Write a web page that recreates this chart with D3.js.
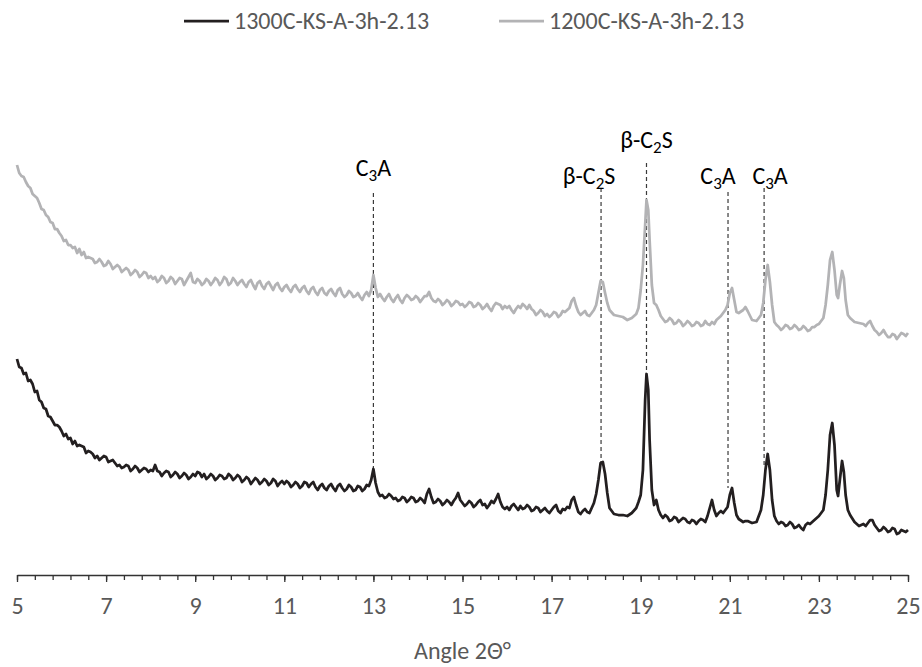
<!DOCTYPE html>
<html>
<head>
<meta charset="utf-8">
<script src="https://cdn.jsdelivr.net/npm/d3@7"></script>
<style>
  html, body { margin: 0; padding: 0; background: #fff; }
  svg { display: block; }
  text { font-family: Carlito, Calibri, Lato, sans-serif; }
</style>
</head>
<body>
<svg id="chart" width="922" height="667"></svg>
<script>
// ---------------- DATA ----------------
const seriesNames = ["1300C-KS-A-3h-2.13", "1200C-KS-A-3h-2.13"];

const angles = [
  5.0,5.05,5.1,5.15,5.2,5.25,5.3,5.35,5.4,5.45,5.5,5.55,5.6,5.65,5.7,5.75,5.8,5.85,5.9,5.95,
  6.0,6.05,6.1,6.15,6.2,6.25,6.3,6.35,6.4,6.45,6.5,6.55,6.6,6.65,6.7,6.75,6.8,6.85,6.9,6.95,
  7.0,7.05,7.1,7.15,7.2,7.25,7.3,7.35,7.4,7.45,7.5,7.55,7.6,7.65,7.7,7.75,7.8,7.85,7.9,7.95,
  8.0,8.05,8.1,8.15,8.2,8.25,8.3,8.35,8.4,8.45,8.5,8.55,8.6,8.65,8.7,8.75,8.8,8.85,8.9,8.95,
  9.0,9.05,9.1,9.15,9.2,9.25,9.3,9.35,9.4,9.45,9.5,9.55,9.6,9.65,9.7,9.75,9.8,9.85,9.9,9.95,
  10.0,10.05,10.1,10.15,10.2,10.25,10.3,10.35,10.4,10.45,10.5,10.55,10.6,10.65,10.7,10.75,10.8,10.85,10.9,10.95,
  11.0,11.05,11.1,11.15,11.2,11.25,11.3,11.35,11.4,11.45,11.5,11.55,11.6,11.65,11.7,11.75,11.8,11.85,11.9,11.95,
  12.0,12.05,12.1,12.15,12.2,12.25,12.3,12.35,12.4,12.45,12.5,12.55,12.6,12.65,12.7,12.75,12.8,12.85,12.9,12.95,
  13.0,13.05,13.1,13.15,13.2,13.25,13.3,13.35,13.4,13.45,13.5,13.55,13.6,13.65,13.7,13.75,13.8,13.85,13.9,13.95,
  14.0,14.05,14.1,14.15,14.2,14.25,14.3,14.35,14.4,14.45,14.5,14.55,14.6,14.65,14.7,14.75,14.8,14.85,14.9,14.95,
  15.0,15.05,15.1,15.15,15.2,15.25,15.3,15.35,15.4,15.45,15.5,15.55,15.6,15.65,15.7,15.75,15.8,15.85,15.9,15.95,
  16.0,16.05,16.1,16.15,16.2,16.25,16.3,16.35,16.4,16.45,16.5,16.55,16.6,16.65,16.7,16.75,16.8,16.85,16.9,16.95,
  17.0,17.05,17.1,17.15,17.2,17.25,17.3,17.35,17.4,17.45,17.5,17.55,17.6,17.65,17.7,17.75,17.8,17.85,17.9,17.95,
  18.0,18.05,18.1,18.15,18.2,18.25,18.3,18.4,18.5,18.6,18.7,18.8,18.9,18.95,
  19.0,19.05,19.1,19.13,19.17,19.2,19.25,19.3,19.35,19.4,19.45,19.5,19.55,19.6,19.65,19.7,19.75,19.8,19.85,19.9,19.95,
  20.0,20.05,20.1,20.15,20.2,20.25,20.3,20.35,20.4,20.45,20.5,20.55,20.6,20.65,20.7,20.75,20.8,20.85,20.9,20.95,
  21.0,21.05,21.1,21.15,21.2,21.3,21.35,21.4,21.5,21.6,21.7,21.75,21.8,21.85,21.9,21.95,
  22.0,22.05,22.1,22.15,22.2,22.25,22.3,22.35,22.4,22.45,22.5,22.55,22.6,22.65,22.7,22.75,22.8,22.85,22.9,22.95,
  23.0,23.1,23.15,23.2,23.25,23.3,23.35,23.4,23.43,23.47,23.52,23.56,23.6,23.65,23.7,23.8,23.9,
  24.0,24.05,24.1,24.15,24.2,24.25,24.3,24.35,24.4,24.45,24.5,24.55,24.6,24.65,24.7,24.75,24.8,24.85,24.9,24.95,25.0
];

// 1300C (black)
const int1300 = [
  216,208,207,201,202,194,195,191,183,184,175,173,167,166,159,158,154,150,150,148,
  144,139,141,136,137,131,134,129,130,129,128,122,124,123,121,117,119,115,117,119,
  118,113,114,115,112,109,110,107,108,110,109,104,106,109,107,103,105,107,106,103,
  105,104,110,104,103,99,102,104,103,98,100,103,101,97,99,102,100,96,98,101,
  99,103,102,98,101,96,98,101,99,95,97,100,99,96,97,101,99,95,97,100,
  98,93,95,98,96,91,94,97,95,91,93,96,94,90,92,96,94,89,92,94,
  91,94,92,88,90,93,91,87,89,93,92,88,91,93,88,85,89,91,87,85,
  89,91,87,84,89,91,87,84,86,90,88,84,85,89,88,84,86,90,89,95,
  106,92,83,79,80,77,78,81,79,76,77,74,75,78,77,73,75,78,77,73,
  74,77,75,72,81,86,78,72,73,76,74,70,72,75,73,70,74,77,82,75,
  72,69,71,74,72,68,70,73,75,70,71,67,70,74,72,76,81,73,68,66,
  68,65,69,71,68,65,69,66,67,70,68,64,65,68,67,63,65,67,64,62,
  65,68,70,64,62,66,65,68,67,75,78,70,63,61,64,66,63,62,67,72,
  81,95,112,113,101,82,67,61,60,60,59,62,67,73,
  80,105,175,201,185,135,85,70,75,65,60,57,60,58,54,55,58,57,53,55,57,
  56,53,52,55,54,51,54,56,55,53,59,67,75,65,59,62,64,62,65,68,
  80,87,72,60,56,53,54,54,52,53,65,80,105,121,105,75,
  59,54,51,53,52,49,50,53,51,47,48,50,47,45,50,52,51,53,55,57,
  59,65,80,105,140,152,130,85,79,95,114,103,80,65,60,53,49,
  51,49,52,55,55,50,47,44,45,48,46,43,44,47,46,41,42,45,44,43,45
];

// 1200C (grey)
const int1200 = [
  410,402,399,398,393,389,387,381,379,377,372,366,365,360,358,353,352,346,346,342,
  339,334,335,330,330,327,328,322,326,320,323,317,318,317,316,312,313,316,313,309,
  310,314,311,306,308,310,308,303,305,307,305,300,302,305,303,298,300,303,302,297,
  299,296,298,293,295,299,297,292,294,298,296,291,294,297,296,290,294,298,302,293,
  292,296,294,290,292,296,294,290,293,297,295,290,293,298,296,290,292,297,294,290,
  293,295,291,288,293,295,290,286,292,294,289,286,291,293,289,285,290,292,287,284,
  288,290,286,283,288,290,286,283,287,289,284,281,286,288,283,280,285,287,282,280,
  284,286,282,279,285,287,281,278,280,284,282,278,279,282,278,275,280,283,279,285,
  300,287,278,281,277,274,278,281,276,273,277,280,275,272,277,280,278,275,276,279,
  277,273,276,279,279,283,277,274,273,276,274,270,272,275,273,269,271,274,273,270,
  271,268,270,273,272,268,269,272,270,266,268,271,267,264,269,272,271,270,266,269,
  267,269,265,262,266,269,267,271,269,266,270,266,264,260,262,265,263,259,261,258,
  260,263,262,258,260,264,263,265,267,274,277,269,263,260,262,264,260,259,262,265,
  270,282,294,293,282,272,265,260,259,258,255,257,261,267,
  285,310,350,375,365,335,290,272,270,265,259,256,253,254,257,255,251,252,255,253,249,
  251,254,252,249,250,253,252,249,250,254,251,250,253,251,255,257,259,262,265,270,
  282,287,275,263,262,265,268,264,255,254,260,272,295,310,293,270,
  253,250,248,245,247,250,249,246,247,250,248,245,246,249,247,244,245,248,248,250,
  251,257,270,290,315,323,305,280,277,290,304,297,275,260,257,253,252,
  251,249,252,254,249,245,243,240,242,245,241,238,238,241,240,236,239,242,241,239,242
];

// Phase markers
const peakAngles = [13.0, 18.11, 19.13, 20.96, 21.77];
const peakLabels = [["C","3","A"], ["β-C","2","S"], ["β-C","2","S"], ["C","3","A"], ["C","3","A"]];
const peakEnds   = [106, 112, 201, 87, 110];   // intensity where the dashed guide meets the 1300C peak

const majorTicks = [5, 7, 9, 11, 13, 15, 17, 19, 21, 23, 25];
const axisTitle = "Angle 2Θ°";

// ---------------- DRAW ----------------
console.log(angles.length, int1300.length, int1200.length);

const svg = d3.select("#chart");
const x = d3.scaleLinear().domain([5, 25]).range([17, 908]);
const y = d3.scaleLinear().domain([0, 450]).range([575, 125]);

const colors = ["#231f20", "#b3b3b5"];
const series = [int1300, int1200];
const FS = 24;

const labelLayout = [
  {dx: 0,   base: 176, top: 193},
  {dx: -12, base: 184, top: 188},
  {dx: 0,   base: 148, top: 163},
  {dx: -10, base: 184, top: 192},
  {dx: 6,   base: 184, top: 188}
];

const guides = svg.append("g");
peakAngles.forEach((a, i) => {
  guides.append("line")
    .attr("x1", x(a)).attr("x2", x(a))
    .attr("y1", labelLayout[i].top).attr("y2", y(peakEnds[i]))
    .attr("stroke", "#3a3a3a").attr("stroke-width", 1.2)
    .attr("stroke-dasharray", "4,3");
  const t = guides.append("text")
    .attr("x", x(a) + labelLayout[i].dx)
    .attr("y", labelLayout[i].base)
    .attr("text-anchor", "middle")
    .attr("font-size", FS)
    .attr("fill", "#000");
  const p = peakLabels[i];
  t.append("tspan").text(p[0]);
  t.append("tspan").attr("font-size", 17).attr("dy", 5).text(p[1]);
  t.append("tspan").attr("dy", -5).text(p[2]);
});

// curves
const line = d3.line().x((d, i) => x(angles[i])).y(d => y(d));
[1, 0].forEach(k => {
  svg.append("path")
    .datum(series[k])
    .attr("fill", "none")
    .attr("stroke", colors[k])
    .attr("stroke-width", 2.75)
    .attr("stroke-linejoin", "round")
    .attr("d", line);
});

// x axis: minor ticks
const minorTicks = d3.range(5, 25.0001, 0.4).map(v => +v.toFixed(2));
svg.append("g")
  .attr("transform", "translate(0,575)")
  .call(d3.axisBottom(x).tickValues(minorTicks).tickSize(5).tickSizeOuter(0).tickFormat(""))
  .call(g => g.selectAll("line").attr("stroke", "#333").attr("stroke-width", 1.3))
  .call(g => g.select(".domain").attr("stroke", "#333").attr("stroke-width", 1.5));

const ax = svg.append("g")
  .attr("transform", "translate(0,575)")
  .call(d3.axisBottom(x).tickValues(majorTicks).tickSize(7).tickSizeOuter(0).tickFormat(d3.format("d")));
ax.select(".domain").remove();
ax.selectAll("line").attr("stroke", "#333").attr("stroke-width", 1.3);
ax.selectAll("text")
  .attr("y", 31).attr("dy", "0.35em")
  .attr("font-size", FS)
  .attr("fill", "#595959")
  .style("font-family", "Carlito, Calibri, Lato, sans-serif");

svg.append("text")
  .attr("x", (x(5) + x(25)) / 2).attr("y", 651)
  .attr("dy", "0.35em")
  .attr("text-anchor", "middle")
  .attr("font-size", FS)
  .attr("fill", "#595959")
  .text(axisTitle);

// legend
const legendX = [184, 499];
seriesNames.forEach((name, i) => {
  const g = svg.append("g").attr("transform", `translate(${legendX[i]},21)`);
  g.append("line").attr("x1", 0).attr("x2", 45).attr("y1", 0).attr("y2", 0)
    .attr("stroke", colors[i]).attr("stroke-width", 2.75);
  g.append("text").attr("x", 50).attr("y", 0).attr("dy", "0.35em")
    .attr("font-size", FS).attr("fill", "#595959").text(name);
});
</script>
</body>
</html>
